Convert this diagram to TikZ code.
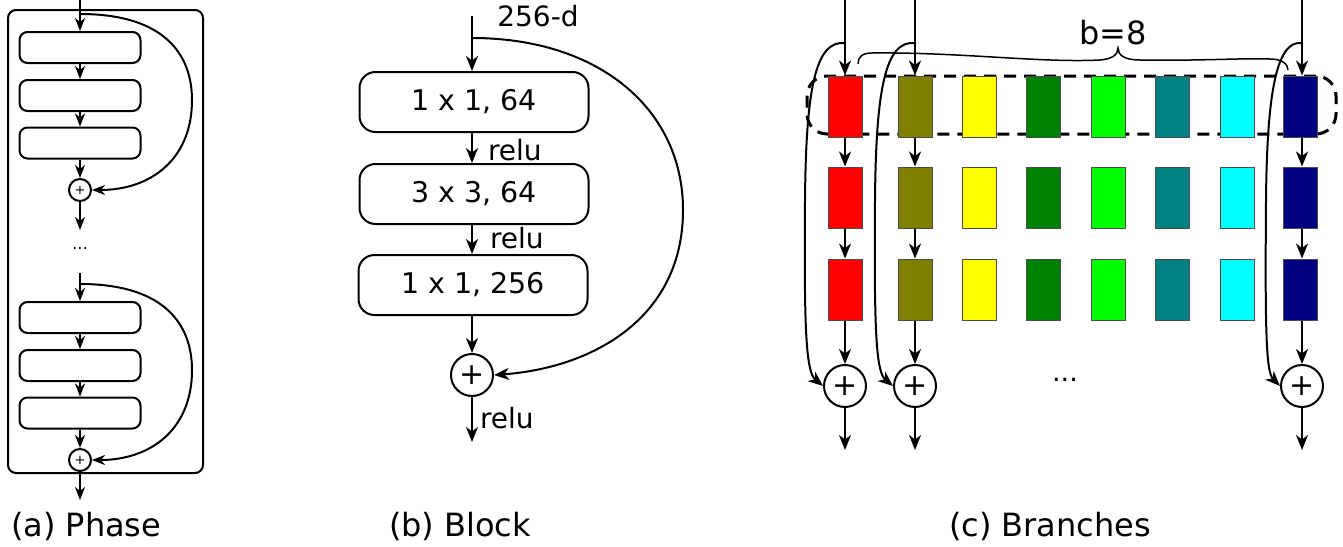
\documentclass[tikz,border=0pt]{standalone}
\usepackage{fontspec}
\setmainfont{DejaVu Sans}
\usetikzlibrary{arrows.meta}
\definecolor{cRed}{RGB}{255,0,0}
\definecolor{cOlive}{RGB}{128,128,0}
\definecolor{cYellow}{RGB}{255,255,0}
\definecolor{cGreen}{RGB}{0,128,0}
\definecolor{cLime}{RGB}{0,255,0}
\definecolor{cTeal}{RGB}{0,128,128}
\definecolor{cCyan}{RGB}{0,255,255}
\definecolor{cNavy}{RGB}{0,0,128}
\begin{document}
\begin{tikzpicture}[x=1pt,y=-1pt,line width=2pt,
  arr/.style={-{Stealth[length=15pt,width=12pt,inset=4.5pt]}},
  sarr/.style={-{Stealth[length=13pt,width=10pt,inset=4pt]}},
  phasebox/.style={draw,rounded corners=8pt,minimum width=195pt,minimum height=463pt,inner sep=0pt},
  abox/.style={draw,rounded corners=8pt,minimum width=121pt,minimum height=31pt,inner sep=0pt},
  bbox/.style={draw,rounded corners=16pt,minimum width=229pt,minimum height=60pt,inner sep=0pt,font=\fontsize{28.5pt}{33pt}\selectfont},
  cbox/.style={draw=black!70,line width=1pt,minimum width=34pt,minimum height=61pt,inner sep=0pt},
  splus/.style={draw,circle,minimum size=22pt,inner sep=0pt,font=\fontsize{13pt}{15pt}\selectfont},
  bplus/.style={draw,circle,minimum size=42pt,inner sep=0pt,font=\fontsize{30pt}{34pt}\selectfont},
  lbl/.style={font=\fontsize{28pt}{33pt}\selectfont,inner sep=0pt},
  captxt/.style={font=\fontsize{32pt}{38pt}\selectfont,inner sep=0pt},
  grp/.style={draw,line width=3pt,dash pattern=on 12pt off 8pt,rounded corners=20pt,minimum width=529pt,minimum height=58pt,inner sep=0pt}
]
\useasboundingbox (0,0) rectangle (1343,546);

% ---------- (a) Phase ----------
\node[phasebox] (pa) at (105.5,241.5) {};
\coordinate (ta) at (80,0);
\coordinate (sa) at (80,14);
\node[abox] (a1) at (80,47.5) {};
\node[abox] (a2) at (80,95.5) {};
\node[abox] (a3) at (80,143) {};
\node[splus] (p1) at (80,190) {+};
\coordinate (oa) at (80,230);
\node[font=\fontsize{16pt}{18pt}\selectfont,inner sep=0pt] (dots) at (80,249) {...};
\coordinate (tb) at (80,273);
\coordinate (sb) at (80,284);
\node[abox] (b1) at (80,317.5) {};
\node[abox] (b2) at (80,365.5) {};
\node[abox] (b3) at (80,413) {};
\node[splus] (p2) at (80,460) {+};
\coordinate (ob) at (80,500);
\draw[sarr] (ta) -- (a1.north);
\draw[sarr] (a1.south) -- (a2.north);
\draw[sarr] (a2.south) -- (a3.north);
\draw[sarr] (a3.south) -- (p1.north);
\draw[sarr] (p1.south) -- (oa);
\draw[sarr] (sa) .. controls (165,14) and (192,55) .. (192,100) .. controls (192,160) and (150,190) .. (p1.east);
\draw[sarr] (tb) -- (b1.north);
\draw[sarr] (b1.south) -- (b2.north);
\draw[sarr] (b2.south) -- (b3.north);
\draw[sarr] (b3.south) -- (p2.north);
\draw[sarr] (p2.south) -- (ob);
\draw[sarr] (sb) .. controls (165,284) and (192,325) .. (192,370) .. controls (192,430) and (150,460) .. (p2.east);
\node[captxt,anchor=west] (capa) at (10,526) {(a) Phase};

% ---------- (b) Block ----------
\coordinate (tB) at (472,16);
\coordinate (sB) at (472,38);
\node[lbl] (d256) at (538,16) {256-d};
\node[bbox] (B1) at (474,102) {1 x 1, 64};
\node[bbox] (B2) at (474,194) {3 x 3, 64};
\node[bbox] (B3) at (473,285) {1 x 1, 256};
\node[bplus] (pB) at (472,375) {+};
\coordinate (oB) at (472,442);
\draw[arr] (tB) -- (tB |- B1.north);
\draw[arr] (B1.south -| tB) -- (tB |- B2.north);
\draw[arr] (B2.south -| tB) -- (tB |- B3.north);
\draw[arr] (B3.south -| tB) -- (pB.north);
\draw[arr] (pB.south) -- (oB);
\draw[arr] (sB) .. controls (600,38) and (683,110) .. (683,210) .. controls (683,320) and (590,368) .. (pB.east);
\node[lbl,anchor=west] (r1) at (487,150) {relu};
\node[lbl,anchor=west] (r2) at (489,238) {relu};
\node[lbl,anchor=west] (r3) at (479,418) {relu};
\node[captxt] (capb) at (460,526) {(b) Block};

% ---------- (c) Branches ----------
\node[grp] (group) at (1071.5,105) {};
\foreach \i/\x/\c in {1/845/cRed,2/915/cOlive,3/979/cYellow,4/1043/cGreen,5/1108/cLime,6/1172/cTeal,7/1237/cCyan,8/1300/cNavy}{
  \node[cbox,fill=\c] (q1\i) at (\x,106.5) {};
  \node[cbox,fill=\c] (q2\i) at (\x,197.5) {};
  \node[cbox,fill=\c] (q3\i) at (\x,289.5) {};
}
\foreach \i/\x in {1/845,2/915,8/1302}{
  \coordinate (ct\i) at (\x,0);
  \coordinate (cs\i) at (\x,43);
  \coordinate (co\i) at (\x,450);
  \node[bplus] (cp\i) at (\x,386) {+};
  \draw[arr] (ct\i) -- (ct\i |- q1\i.north);
  \draw[arr] (q1\i.south -| ct\i) -- (ct\i |- q2\i.north);
  \draw[arr] (q2\i.south -| ct\i) -- (ct\i |- q3\i.north);
  \draw[arr] (q3\i.south -| ct\i) -- (cp\i.north);
  \draw[arr] (cp\i.south) -- (co\i);
}
\draw[arr] (cs1) .. controls (815,40) and (806,90) .. (805,200) .. controls (804,330) and (806,372) .. (cp1.west);
\draw[arr] (cs2) .. controls (885,40) and (876,90) .. (875,200) .. controls (874,330) and (876,372) .. (cp2.west);
\draw[arr] (cs8) .. controls (1277,40) and (1267,90) .. (1266,200) .. controls (1265,330) and (1266,372) .. (cp8.west);
\draw[line width=1.5pt] (858,64) .. controls (858,57) and (862,53) .. (872,53) .. controls (960,52) and (1040,63) .. (1100,60) .. controls (1112,59) and (1118,55) .. (1118,48) .. controls (1118,55) and (1124,60) .. (1140,60) .. controls (1200,61) and (1240,58) .. (1270,59) .. controls (1282,59) and (1288,64) .. (1288,70);
\node[captxt] (bl) at (1113,33) {b=8};
\node[font=\fontsize{27pt}{32pt}\selectfont,inner sep=0pt] (cdots) at (1065,380) {...};
\node[captxt] (capc) at (1050,526) {(c) Branches};
\end{tikzpicture}
\end{document}
